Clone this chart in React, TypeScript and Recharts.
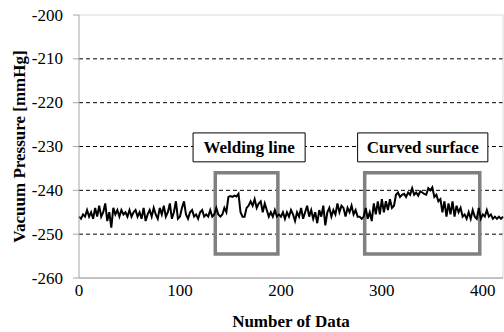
import React from "react";
import {
  LineChart,
  Line,
  XAxis,
  YAxis,
  CartesianGrid,
  ReferenceArea,
  ReferenceLine,
} from "recharts";

// pressure readings, one every 2 samples (0..420)
const pressure = [
  -246, -246.5, -245.5, -246, -244.5, -246, -245, -246.5, -244, -246,
  -243.5, -246, -245, -243, -247, -245, -248.5, -244, -245.5, -244.5,
  -246, -244.5, -245.5, -245, -246, -244.5, -246, -245, -244.5, -246,
  -245, -246.5, -244, -247, -245.5, -244.5, -246, -244, -245.5, -246.5,
  -244, -245.5, -243.5, -246, -245, -243, -246.5, -245, -242.5, -246.5,
  -246, -244, -242.5, -245.5, -246.5, -245, -244.5, -246, -245.5, -246.5,
  -245, -244.5, -246, -245.5, -246, -244.5, -246, -245.5, -244, -245.5,
  -246,
  // welding line
  -245.5, -244, -245, -241.5, -241.3, -241.5, -241.2, -241.4, -240.8, -245,
  -246, -246, -244, -243.5, -242.5, -243.5, -242, -244, -243, -242.5,
  -245, -243, -244.5, -246, -245, -246, -244.5, -246,
  -245.5, -246, -245, -246.5, -245, -246, -244.5, -245.5, -247, -245,
  -246, -244, -246.5, -245, -243.5, -246, -244.5, -246.5, -245, -247.5,
  -244.5, -246, -243.5, -248, -245, -244, -246, -244.5, -245.5, -243,
  -245, -243.5, -244, -246, -244, -245, -243.5, -245.5, -244.5, -246,
  -246, -246.5, -246,
  // curved surface
  -244, -246.5, -245, -247, -243, -245.5, -242.5, -245.5, -242, -245,
  -242.5, -244.5, -242, -244, -243.5, -241, -240.5, -241.5, -241, -240.8,
  -241.5, -240.5, -241, -239.5, -241, -240.5, -241.2, -240.2, -240.5, -240.8,
  -241, -239.5, -240, -239.3, -241.5, -241, -242.5, -242, -245, -242.5,
  -246, -243, -245.5, -242.5, -246, -243.5, -245, -244, -246,
  -245.5, -246.5, -245, -246.5, -244.5, -246, -246.5, -244, -246.5, -245.5,
  -246, -244.5, -246, -245.5, -246.5, -246, -246.5, -246, -246.5, -246,
];

const xTicks = [0, 100, 200, 300, 400];
const yTicks = [-260, -250, -240, -230, -220, -210, -200];
const gridLines = [-250, -240, -230, -220, -210];

const data = pressure.map((p, i) => ({ n: i * 2, p }));

const font = "Liberation Serif";

const XTick = (props: any) => {
  const { x, y, payload } = props;
  return (
    <text x={x} y={y + 18} textAnchor="middle" fill="#000" fontSize={17} fontFamily={font}>
      {payload.value}
    </text>
  );
};

const YTick = (props: any) => {
  const { x, y, payload } = props;
  return (
    <text x={x} y={y + 5.5} textAnchor="end" fill="#000" fontSize={17} fontFamily={font}>
      {payload.value}
    </text>
  );
};

export default function App() {
  return (
    <div style={{ position: "absolute", left: 0, top: 0, background: "#fff" }}>
      <LineChart
        width={504}
        height={332}
        data={data}
        margin={{ top: 15, right: 1, bottom: 0, left: 0 }}
      >
        <CartesianGrid
          vertical={false}
          horizontalValues={gridLines}
          stroke="#000"
          strokeDasharray="4 3"
        />
        <ReferenceLine y={-200} stroke="#d9d9d9" />
        <ReferenceLine x={420} stroke="#d9d9d9" />
        <XAxis
          type="number"
          dataKey="n"
          domain={[0, 420]}
          ticks={xTicks}
          tickLine={false}
          tickSize={0}
          tickMargin={0}
          height={54}
          axisLine={{ stroke: "#868686" }}
          tick={<XTick />}
          label={{
            value: "Number of Data",
            position: "insideBottom",
            offset: 5,
            fill: "#000",
            fontSize: 17,
            fontWeight: "bold",
            fontFamily: font,
          }}
        />
        <YAxis
          domain={[-260, -200]}
          ticks={yTicks}
          width={79}
          tickSize={6}
          tickMargin={10}
          tickLine={{ stroke: "#a6a6a6" }}
          axisLine={{ stroke: "#a6a6a6" }}
          tick={<YTick />}
          label={{
            value: "Vacuum Pressure [mmHg]",
            angle: -90,
            position: "insideLeft",
            offset: 19,
            fill: "#000",
            fontSize: 17,
            fontWeight: "bold",
            fontFamily: font,
            style: { textAnchor: "middle" },
          }}
        />
        <ReferenceArea
          x1={135}
          x2={197}
          y1={-254.5}
          y2={-236}
          fill="none"
          stroke="#808080"
          strokeWidth={3.5}
        />
        <ReferenceArea
          x1={283}
          x2={397}
          y1={-254.5}
          y2={-236}
          fill="none"
          stroke="#808080"
          strokeWidth={3.5}
        />
        <ReferenceArea
          x1={113}
          x2={224}
          y1={-233.5}
          y2={-226.9}
          fill="#fff"
          fillOpacity={1}
          stroke="#000"
          strokeWidth={1}
          label={{
            value: "Welding line",
            position: "center",
            fill: "#000",
            fontSize: 17,
            fontWeight: "bold",
            fontFamily: font,
          }}
        />
        <ReferenceArea
          x1={276}
          x2={405}
          y1={-233.5}
          y2={-226.9}
          fill="#fff"
          fillOpacity={1}
          stroke="#000"
          strokeWidth={1}
          label={{
            value: "Curved surface",
            position: "center",
            fill: "#000",
            fontSize: 17,
            fontWeight: "bold",
            fontFamily: font,
          }}
        />
        <Line
          dataKey="p"
          stroke="#000"
          strokeWidth={2}
          dot={false}
          isAnimationActive={false}
        />
      </LineChart>
    </div>
  );
}
